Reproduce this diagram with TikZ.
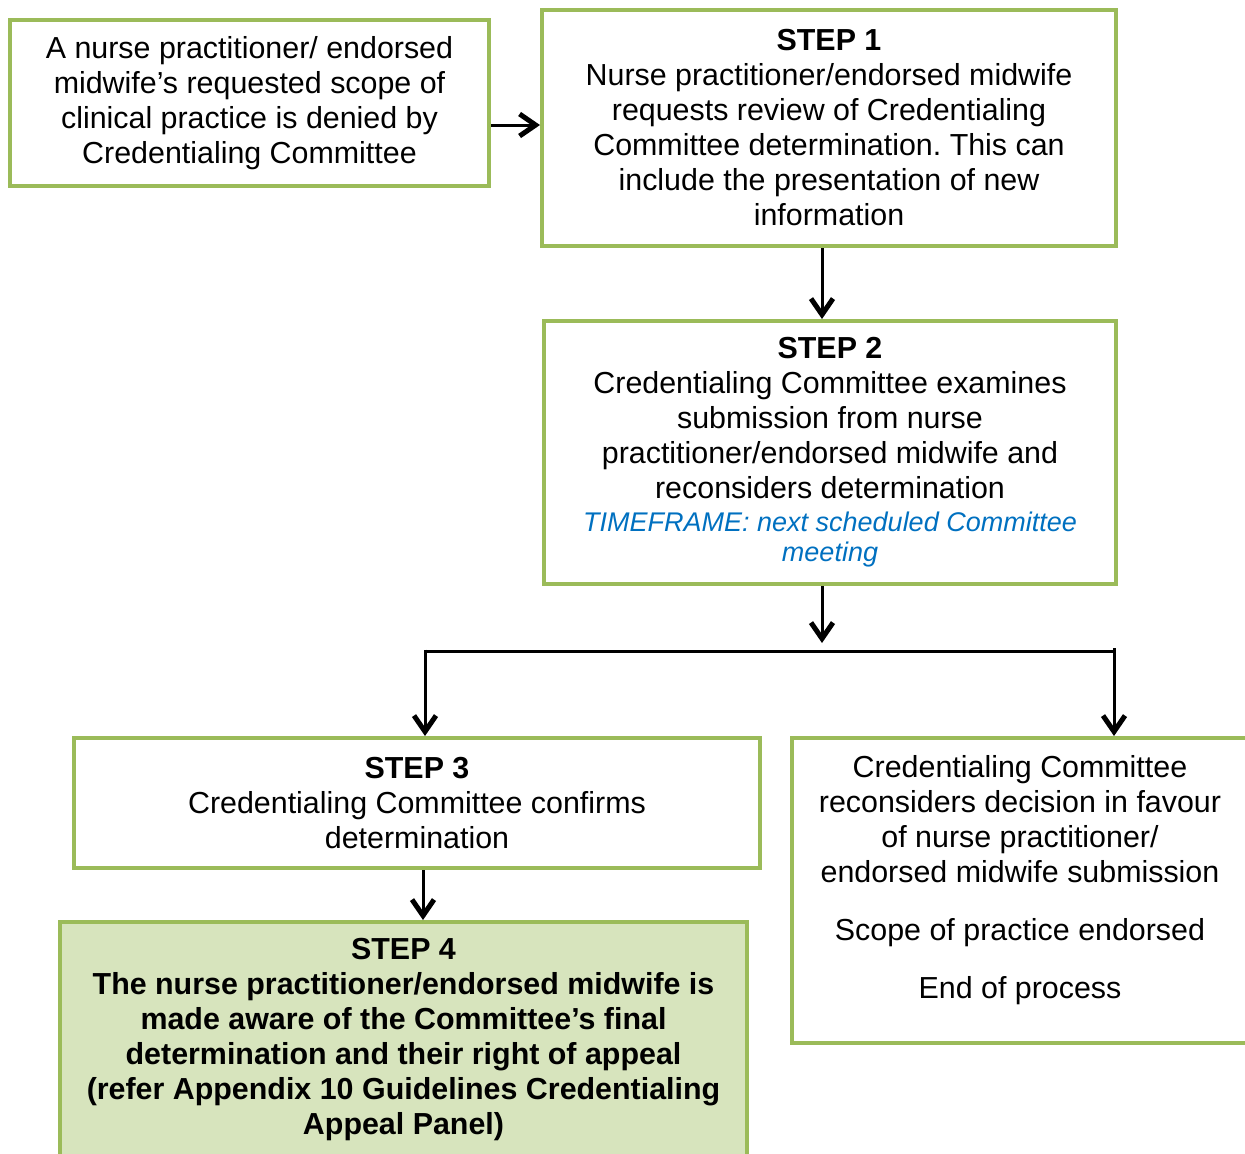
\documentclass[tikz,border=0pt]{standalone}
\usepackage{fontspec}
\setmainfont{Liberation Sans}
\usetikzlibrary{arrows.meta}
\frenchspacing

\definecolor{boxgreen}{HTML}{9BBB59}
\definecolor{boxfill}{HTML}{D7E4BD}
\definecolor{tfblue}{HTML}{0070C0}

\begin{document}
\begin{tikzpicture}[x=0.5pt,y=-0.5pt,
  box/.style={draw=boxgreen,line width=2pt,align=center,
    font=\fontsize{15.2}{17.5}\selectfont},
  arr/.style={line width=1.5pt,-{Straight Barb[length=8pt,width=11pt,line width=2.5pt]}}]

  \useasboundingbox (0,0) rectangle (1245,1153);

  \node[box,minimum width=239.5pt,minimum height=83pt] (denied) at (249.5,103)
    {A nurse practitioner/ endorsed\\ midwife’s requested scope of\\
     clinical practice is denied by\\ Credentialing Committee};

  \node[box,minimum width=287pt,minimum height=118pt] (step1) at (829,128)
    {\textbf{STEP 1}\\ Nurse practitioner/endorsed midwife\\
     requests review of Credentialing\\ Committee determination. This can\\
     include the presentation of new\\ information};

  \node[box,minimum width=286pt,minimum height=131.5pt] (step2) at (830,452.5)
    {\textbf{STEP 2}\\ Credentialing Committee examines\\
     submission from nurse\\ practitioner/endorsed midwife and\\
     reconsiders determination\\[-1pt]
     {\color{tfblue}\itshape\fontsize{13.5}{15}\selectfont TIMEFRAME: next scheduled Committee}\\[-2.5pt]
     {\color{tfblue}\itshape\fontsize{13.5}{15}\selectfont meeting}};

  \node[box,minimum width=343pt,minimum height=65pt] (step3) at (417,803)
    {\textbf{STEP 3}\\ Credentialing Committee confirms\\ determination};

  \node[box,fill=boxfill,minimum width=343.5pt,minimum height=118pt] (step4) at (403.5,1040)
    {\textbf{STEP 4}\\ \textbf{The nurse practitioner/endorsed midwife is}\\
     \textbf{made aware of the Committee’s final}\\
     \textbf{determination and their right of appeal}\\
     \textbf{(refer Appendix 10 Guidelines Credentialing}\\
     \textbf{Appeal Panel)}};

  \node[box,minimum width=228pt,minimum height=152.5pt] (endbox) at (1020,890.5) {};
  \node[align=center,font=\fontsize{15.2}{17.5}\selectfont] (endtext) at (1020,880.5)
    {Credentialing Committee\\ reconsiders decision in favour\\
     of nurse practitioner/\\ endorsed midwife submission\\[11.5pt]
     Scope of practice endorsed\\[11.5pt] End of process};

  % branch points
  \coordinate (split) at (822,643);
  \coordinate (lcorner) at (425,651);
  \coordinate (rcorner) at (1114,651);

  \draw[arr] ([yshift=-11pt]denied.east) -- ([yshift=-11pt]denied.east -| step1.west);
  \draw[arr] (step1.south -| split) -- (step2.north -| split);
  \draw[arr] (step2.south -| split) -- (split);
  \draw[line width=1.5pt] (lcorner) -- (rcorner);
  \draw[arr] ([yshift=0.75pt]lcorner) -- (lcorner |- step3.north);
  \draw[arr] ([yshift=1.5pt]rcorner) -- (rcorner |- endbox.north);
  \draw[arr] ([xshift=3pt]step3.south) -- ([xshift=3pt]step3.south |- step4.north);

\end{tikzpicture}
\end{document}
